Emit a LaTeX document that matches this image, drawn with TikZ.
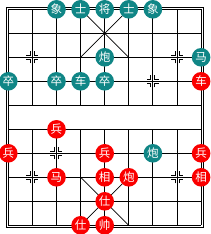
\documentclass[tikz,border=0pt]{standalone}
\usepackage{fontspec}
\newfontfamily\cjk{Noto Sans CJK SC}
\definecolor{tealp}{RGB}{16,134,134}
\definecolor{redp}{RGB}{250,0,0}
\tikzset{
  gridline/.style={line width=0.9pt, black},
  piece/.style={circle, minimum size=18.6pt, inner sep=0pt, text=white,
    font=\cjk\fontsize{11.5}{11.5}\selectfont},
  tpiece/.style={piece, fill=tealp},
  rpiece/.style={piece, fill=redp},
  markline/.style={line width=0.8pt, black}
}
\newcommand\cx[1]{8.3+24.1*#1}
\newcommand\ry[1]{9.3+24*#1}
\begin{document}
\begin{tikzpicture}[x=1pt,y=-1pt]
\useasboundingbox (0,0) rectangle (210,234);
\fill[white] (0,0) rectangle (210,234);
% outer frame
\draw[gridline] (6.1,7.1) rectangle (203.3,227.5);
% horizontal lines
\foreach \r in {0,...,9}
  \draw[gridline] ({\cx{0}},{\ry{\r}}) -- ({\cx{8}},{\ry{\r}});
% vertical edges
\foreach \c in {0,8}
  \draw[gridline] ({\cx{\c}},{\ry{0}}) -- ({\cx{\c}},{\ry{9}});
% inner verticals (broken by river)
\foreach \c in {1,...,7} {
  \draw[gridline] ({\cx{\c}},{\ry{0}}) -- ({\cx{\c}},{\ry{4}});
  \draw[gridline] ({\cx{\c}},{\ry{5}}) -- ({\cx{\c}},{\ry{9}});
}
% palaces
\draw[line width=0.7pt] ({\cx{3}},{\ry{0}}) -- ({\cx{5}},{\ry{2}});
\draw[line width=0.7pt] ({\cx{5}},{\ry{0}}) -- ({\cx{3}},{\ry{2}});
\draw[line width=0.7pt] ({\cx{3}},{\ry{7}}) -- ({\cx{5}},{\ry{9}});
\draw[line width=0.7pt] ({\cx{5}},{\ry{7}}) -- ({\cx{3}},{\ry{9}});
% position markers
\foreach \c/\r in {1/2,7/2,6/3,2/6,1/7,7/7} {
  \foreach \sx/\sy in {1/1,1/-1,-1/1,-1/-1} {
    \draw[markline] ({\cx{\c}+\sx*2},{\ry{\r}+\sy*6}) -- ({\cx{\c}+\sx*2},{\ry{\r}+\sy*2}) -- ({\cx{\c}+\sx*6},{\ry{\r}+\sy*2});
  }
}
% teal pieces
\foreach \c/\r/\t in {2/0/象,3/0/士,4/0/将,5/0/士,6/0/象,4/2/炮,8/2/马,0/3/卒,2/3/卒,3/3/车,4/3/卒,6/6/炮}
  \node[tpiece] (t-\c-\r) at ({\cx{\c}},{\ry{\r}}) {\t};
% red pieces
\foreach \c/\r/\t in {8/3/车,2/5/兵,0/6/兵,4/6/兵,8/6/兵,2/7/马,4/7/相,5/7/炮,8/7/相,4/8/仕,3/9/仕,4/9/帅}
  \node[rpiece] (r-\c-\r) at ({\cx{\c}},{\ry{\r}}) {\t};
\end{tikzpicture}
\end{document}
